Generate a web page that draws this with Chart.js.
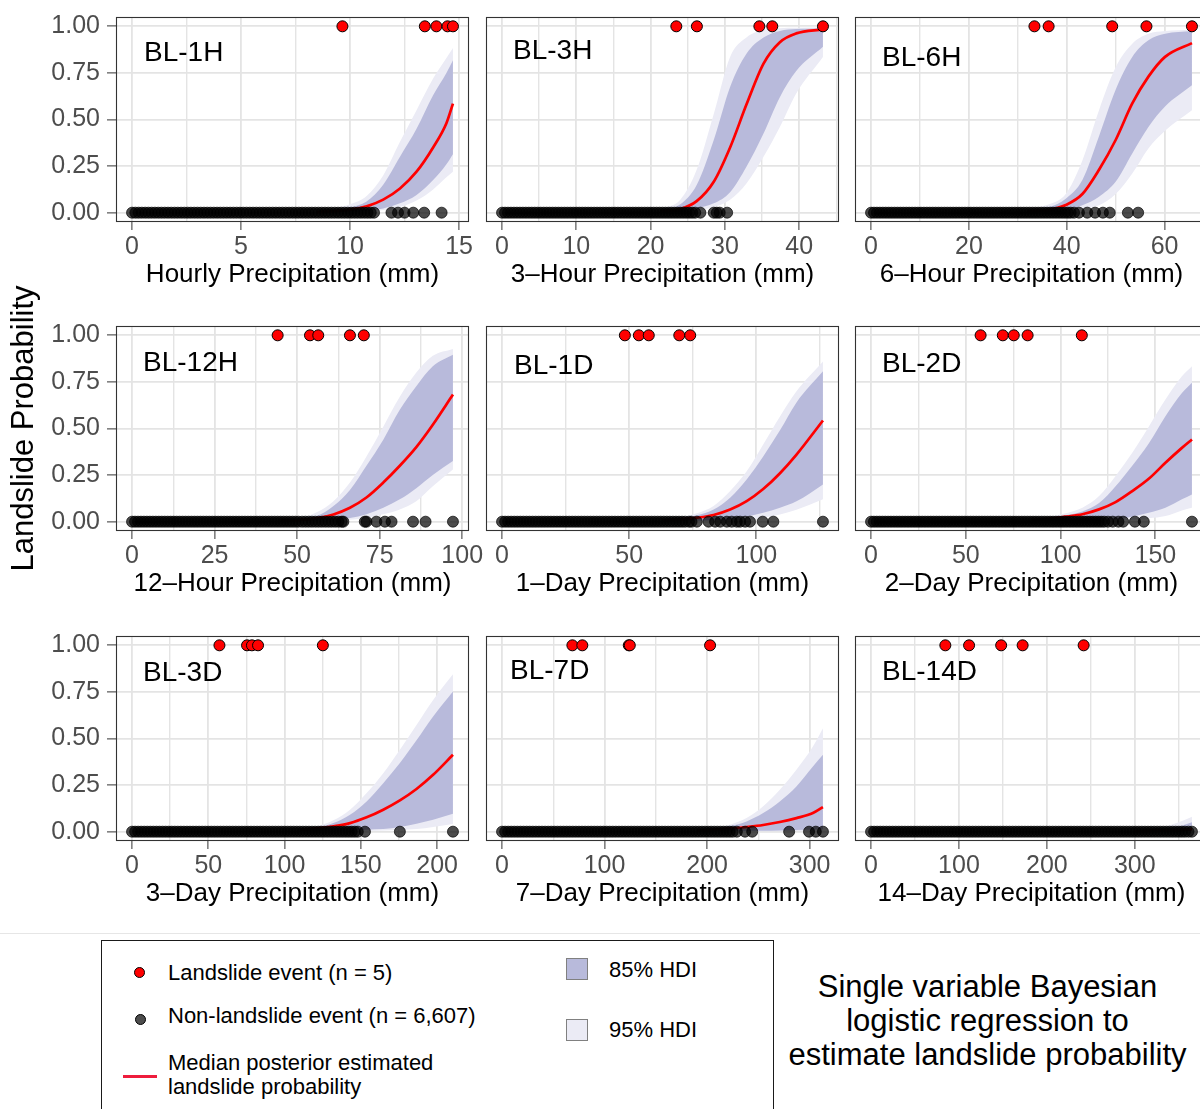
<!DOCTYPE html>
<html lang="en">
<head>
<meta charset="utf-8">
<title>Single variable Bayesian logistic regression – landslide probability</title>
<script src="https://cdn.jsdelivr.net/npm/chart.js@4.4.1/dist/chart.umd.min.js"></script>
<style>
  html, body { margin: 0; padding: 0; width: 1200px; height: 1109px; overflow: hidden; background: #fff; }
  body { position: relative; font-family: "Liberation Sans", Arial, Helvetica, sans-serif; color: #000; }
  canvas.panel { position: absolute; }
  .rule { position: absolute; left: 0; top: 933px; width: 1200px; height: 1px; background: #e6e6e6; }
  .legend-box { position: absolute; left: 101px; top: 940px; width: 673px; height: 200px;
                border: 1.5px solid #1a1a1a; box-sizing: border-box; }
  .txt { position: absolute; font-size: 22px; line-height: 26px; white-space: nowrap; }
  .dot { position: absolute; width: 11px; height: 11px; border-radius: 50%; box-sizing: border-box; border: 1.2px solid #000; }
  .swatch { position: absolute; width: 22px; height: 22px; box-sizing: border-box; border: 1px solid #808080; }
  .note { position: absolute; left: 782px; top: 969.5px; width: 411px; text-align: center;
          font-size: 31px; line-height: 34.4px; }
</style>
</head>
<body>

<div class="rule"></div>
<div class="legend-box"></div>

<div class="dot" style="left:133.5px;top:966.8px;background:#ff0000;"></div>
<div class="txt" style="left:168px;top:959.8px;">Landslide event (n = 5)</div>

<div class="dot" style="left:134.5px;top:1013.5px;background:#4d4d4d;"></div>
<div class="txt" style="left:168px;top:1002.8px;">Non-landslide event (n = 6,607)</div>

<div style="position:absolute;left:123px;top:1074.5px;width:34px;height:3.5px;background:#ee1c3c;"></div>
<div class="txt" style="left:168px;top:1051.1px;line-height:23.4px;">Median posterior estimated<br>landslide probability</div>

<div class="swatch" style="left:566px;top:958px;background:#b8badb;"></div>
<div class="txt" style="left:609px;top:957px;">85% HDI</div>

<div class="swatch" style="left:566px;top:1019px;background:#ebebf5;"></div>
<div class="txt" style="left:609px;top:1017px;">95% HDI</div>

<div class="note">Single variable Bayesian<br>logistic regression to<br>estimate landslide probability</div>

<script>
// ---------------------------------------------------------------
// Observations (x = accumulated precipitation, mm) and posterior
// summaries of P(landslide) for each accumulation window.
// ---------------------------------------------------------------

const probTicks = [0, 0.25, 0.5, 0.75, 1];

// BL-1H : hourly
const h1Max = 14.72;
const h1Ticks = [0, 5, 10, 15];
const h1MinorTicks = [2.5, 7.5, 12.5];
const h1Landslide = [9.65, 13.43, 13.96, 14.47, 14.72];
const h1NonLandslide = [0, 0.15, 0.3, 0.45, 0.6, 0.75, 0.9, 1.05, 1.2, 1.35, 1.5, 1.65, 1.8, 1.95, 2.1, 2.25, 2.4, 2.55,
  2.7, 2.85, 3, 3.15, 3.3, 3.45, 3.6, 3.75, 3.9, 4.05, 4.2, 4.35, 4.5, 4.65, 4.8, 4.95, 5.1, 5.25, 5.4, 5.55, 5.7, 5.85,
  6, 6.15, 6.3, 6.45, 6.6, 6.75, 6.9, 7.05, 7.2, 7.35, 7.5, 7.65, 7.8, 7.95, 8.1, 8.25, 8.4, 8.55, 8.7, 8.85, 9, 9.15,
  9.3, 9.45, 9.6, 9.75, 9.9, 10.05, 10.2, 10.35, 10.5, 10.65, 10.8, 10.95, 11.1, 11.9, 12.2, 12.5, 12.9, 13.4, 14.2];
const h1CurveX = [8.5, 9.24, 10.0, 10.76, 11.52, 12.29, 13.05, 13.81, 14.42, 14.72];
const h1Median = [0.003, 0.007, 0.016, 0.034, 0.07, 0.13, 0.22, 0.35, 0.48, 0.585];
const h1Hdi85Low = [0.001, 0.002, 0.005, 0.011, 0.023, 0.05, 0.095, 0.175, 0.26, 0.314];
const h1Hdi85High = [0.006, 0.014, 0.028, 0.06, 0.15, 0.30, 0.45, 0.63, 0.75, 0.818];
const h1Hdi95Low = [0, 0.001, 0.003, 0.006, 0.014, 0.03, 0.065, 0.125, 0.19, 0.22];
const h1Hdi95High = [0.01, 0.022, 0.045, 0.09, 0.20, 0.38, 0.55, 0.72, 0.83, 0.884];

// BL-3H : 3-hour
const h3Max = 43.2;
const h3Ticks = [0, 10, 20, 30, 40];
const h3MinorTicks = [5, 15, 25, 35, 45];
const h3Landslide = [23.46, 26.23, 34.64, 36.38, 43.2];
const h3NonLandslide = [0, 0.4, 0.8, 1.2, 1.6, 2, 2.4, 2.8, 3.2, 3.6, 4, 4.4, 4.8, 5.2, 5.6, 6, 6.4, 6.8, 7.2, 7.6, 8,
  8.4, 8.8, 9.2, 9.6, 10, 10.4, 10.8, 11.2, 11.6, 12, 12.4, 12.8, 13.2, 13.6, 14, 14.4, 14.8, 15.2, 15.6, 16, 16.4, 16.8,
  17.2, 17.6, 18, 18.4, 18.8, 19.2, 19.6, 20, 20.4, 20.8, 21.2, 21.6, 22, 22.4, 22.8, 23.2, 23.6, 24, 24.4, 24.8, 25.2,
  25.6, 26.0, 26.7, 28.5, 28.9, 29.3, 30.3];
const h3CurveX = [21.3, 24.0, 26.2, 28.5, 30.7, 32.9, 35.2, 37.4, 39.6, 43.2];
const h3Median = [0.006, 0.02, 0.062, 0.166, 0.35, 0.58, 0.80, 0.915, 0.962, 0.984];
const h3Hdi85Low = [0.002, 0.007, 0.023, 0.05, 0.11, 0.246, 0.425, 0.62, 0.76, 0.89];
const h3Hdi85High = [0.012, 0.045, 0.148, 0.39, 0.675, 0.853, 0.94, 0.975, 0.985, 0.988];
const h3Hdi95Low = [0.001, 0.004, 0.012, 0.03, 0.07, 0.157, 0.30, 0.46, 0.64, 0.836];
const h3Hdi95High = [0.02, 0.07, 0.23, 0.53, 0.836, 0.94, 0.98, 0.99, 0.992, 0.993];

// BL-6H : 6-hour
const h6Max = 65.6;
const h6Ticks = [0, 20, 40, 60];
const h6MinorTicks = [10, 30, 50];
const h6Landslide = [33.4, 36.3, 49.3, 56.3, 65.6];
const h6NonLandslide = [0, 0.6, 1.2, 1.8, 2.4, 3, 3.6, 4.2, 4.8, 5.4, 6, 6.6, 7.2, 7.8, 8.4, 9, 9.6, 10.2, 10.8, 11.4,
  12, 12.6, 13.2, 13.8, 14.4, 15, 15.6, 16.2, 16.8, 17.4, 18, 18.6, 19.2, 19.8, 20.4, 21, 21.6, 22.2, 22.8, 23.4, 24,
  24.6, 25.2, 25.8, 26.4, 27, 27.6, 28.2, 28.8, 29.4, 30, 30.6, 31.2, 31.8, 32.4, 33, 33.6, 34.2, 34.8, 35.4, 36, 36.6,
  37.2, 37.8, 38.4, 39, 39.6, 40.2, 40.8, 41.5, 42.5, 44.2, 45.8, 47.4, 48.8, 52.5, 54.6];
const h6CurveX = [32.0, 36.4, 39.8, 43.2, 46.6, 50.0, 53.4, 56.7, 60.1, 65.6];
const h6Median = [0.006, 0.015, 0.041, 0.10, 0.23, 0.39, 0.586, 0.73, 0.836, 0.91];
const h6Hdi85Low = [0.002, 0.005, 0.015, 0.04, 0.086, 0.166, 0.318, 0.46, 0.57, 0.684];
const h6Hdi85High = [0.012, 0.03, 0.075, 0.175, 0.41, 0.66, 0.836, 0.925, 0.96, 0.975];
const h6Hdi95Low = [0.001, 0.002, 0.008, 0.02, 0.04, 0.10, 0.21, 0.345, 0.44, 0.55];
const h6Hdi95High = [0.018, 0.045, 0.10, 0.28, 0.55, 0.78, 0.907, 0.96, 0.975, 0.982];

// BL-12H : 12-hour
const h12Max = 97.2;
const h12Ticks = [0, 25, 50, 75, 100];
const h12MinorTicks = [12.5, 37.5, 62.5, 87.5];
const h12Landslide = [44.1, 53.9, 56.4, 66.0, 70.2];
const h12NonLandslide = [0, 0.9, 1.8, 2.7, 3.6, 4.5, 5.4, 6.3, 7.2, 8.1, 9, 9.9, 10.8, 11.7, 12.6, 13.5, 14.4, 15.3,
  16.2, 17.1, 18, 18.9, 19.8, 20.7, 21.6, 22.5, 23.4, 24.3, 25.2, 26.1, 27, 27.9, 28.8, 29.7, 30.6, 31.5, 32.4, 33.3,
  34.2, 35.1, 36, 36.9, 37.8, 38.7, 39.6, 40.5, 41.4, 42.3, 43.2, 44.1, 45, 45.9, 46.8, 47.7, 48.6, 49.5, 50.4, 51.5,
  52.5, 53.5, 54.5, 55.5, 56.5, 57.5, 58.5, 59.5, 60.5, 61.5, 62.5, 63.5, 64, 70.5, 71, 74, 76.6, 78.6, 85.1, 88.9, 97.2];
const h12CurveX = [45.0, 50.9, 55.9, 61.0, 66.0, 71.0, 76.1, 81.1, 86.1, 91.1, 97.2];
const h12Median = [0.005, 0.01, 0.018, 0.039, 0.075, 0.13, 0.21, 0.30, 0.40, 0.52, 0.682];
const h12Hdi85Low = [0.001, 0.002, 0.005, 0.01, 0.02, 0.04, 0.075, 0.12, 0.18, 0.25, 0.325];
const h12Hdi85High = [0.008, 0.015, 0.03, 0.084, 0.17, 0.30, 0.44, 0.60, 0.727, 0.834, 0.896];
const h12Hdi95Low = [0, 0.001, 0.002, 0.005, 0.01, 0.02, 0.04, 0.066, 0.11, 0.19, 0.28];
const h12Hdi95High = [0.012, 0.02, 0.05, 0.11, 0.21, 0.35, 0.51, 0.67, 0.80, 0.89, 0.927];

// BL-1D : 1-day
const d1Max = 126.2;
const d1Ticks = [0, 50, 100];
const d1MinorTicks = [25, 75, 125];
const d1Landslide = [48.3, 53.8, 57.7, 69.7, 74.0];
const d1NonLandslide = [0, 1.2, 2.4, 3.6, 4.8, 6, 7.2, 8.4, 9.6, 10.8, 12, 13.2, 14.4, 15.6, 16.8, 18, 19.2, 20.4,
  21.6, 22.8, 24, 25.2, 26.4, 27.6, 28.8, 30, 31.2, 32.4, 33.6, 34.8, 36, 37.2, 38.4, 39.6, 40.8, 42, 43.2, 44.4, 45.6,
  46.8, 48, 49.2, 50.4, 51.6, 52.8, 54, 55.2, 56.4, 57.6, 58.8, 60, 61.2, 62.4, 63.6, 64.8, 66, 67.2, 68.4, 69.6, 70.8,
  72, 73.5, 74.5, 76.6, 81.2, 83.8, 85.8, 88.4, 90.3, 92.3, 93.6, 95.6, 97.5, 102.5, 106.7, 126.2];
const d1CurveX = [63.5, 70.1, 76.6, 83.2, 89.7, 96.2, 102.7, 109.3, 115.8, 126.2];
const d1Median = [0.007, 0.012, 0.021, 0.036, 0.065, 0.11, 0.175, 0.26, 0.36, 0.543];
const d1Hdi85Low = [0.002, 0.003, 0.005, 0.008, 0.0125, 0.027, 0.048, 0.075, 0.109, 0.2];
const d1Hdi85High = [0.01, 0.018, 0.035, 0.066, 0.129, 0.227, 0.35, 0.49, 0.64, 0.807];
const d1Hdi95Low = [0.001, 0.001, 0.002, 0.004, 0.007, 0.0125, 0.021, 0.039, 0.064, 0.12];
const d1Hdi95High = [0.013, 0.025, 0.045, 0.084, 0.164, 0.27, 0.414, 0.565, 0.70, 0.86];

// BL-2D : 2-day
const d2Max = 169.3;
const d2Ticks = [0, 50, 100, 150];
const d2MinorTicks = [25, 75, 125, 175];
const d2Landslide = [57.8, 69.5, 75.3, 82.6, 111.2];
const d2NonLandslide = [0, 1.5, 3, 4.5, 6, 7.5, 9, 10.5, 12, 13.5, 15, 16.5, 18, 19.5, 21, 22.5, 24, 25.5, 27, 28.5,
  30, 31.5, 33, 34.5, 36, 37.5, 39, 40.5, 42, 43.5, 45, 46.5, 48, 49.5, 51, 52.5, 54, 55.5, 57, 58.5, 60, 61.5, 63, 64.5,
  66, 67.5, 69, 70.5, 72, 73.5, 75, 76.5, 78, 79.5, 81, 82.5, 84, 85.5, 87, 88.5, 90, 91.5, 93, 94.5, 96, 97.5, 99,
  100.5, 102, 103.5, 105, 106.5, 108, 109.5, 111, 112.5, 114, 115.5, 117, 118.5, 120, 121.5, 123, 125, 127.5, 130.5,
  133, 139.2, 143.9, 169.3];
const d2CurveX = [85.0, 94.0, 102.7, 111.5, 120.3, 129.0, 137.8, 146.5, 155.3, 164.0, 169.3];
const d2Median = [0.008, 0.015, 0.027, 0.04, 0.066, 0.105, 0.164, 0.23, 0.316, 0.396, 0.441];
const d2Hdi85Low = [0.002, 0.003, 0.005, 0.007, 0.01, 0.0125, 0.027, 0.048, 0.075, 0.12, 0.146];
const d2Hdi85High = [0.01, 0.02, 0.035, 0.055, 0.10, 0.19, 0.30, 0.42, 0.566, 0.69, 0.745];
const d2Hdi95Low = [0.001, 0.001, 0.002, 0.003, 0.005, 0.007, 0.012, 0.018, 0.03, 0.06, 0.075];
const d2Hdi95High = [0.014, 0.025, 0.045, 0.075, 0.1375, 0.245, 0.37, 0.51, 0.655, 0.78, 0.834];

// BL-3D : 3-day
const d3Max = 210.4;
const d3Ticks = [0, 50, 100, 150, 200];
const d3MinorTicks = [25, 75, 125, 175];
const d3Landslide = [57.3, 75.4, 78.6, 82.6, 125.1];
const d3NonLandslide = [0, 2, 4, 6, 8, 10, 12, 14, 16, 18, 20, 22, 24, 26, 28, 30, 32, 34, 36, 38, 40, 42, 44, 46, 48,
  50, 52, 54, 56, 58, 60, 62, 64, 66, 68, 70, 72, 74, 76, 78, 80, 82, 84, 86, 88, 90, 92, 94, 96, 98, 100, 102, 104,
  106, 108, 110, 112, 114, 116, 118, 120, 122, 124, 126, 128, 130, 132, 134, 136, 138, 140, 142, 144, 146, 148, 152.7,
  175.6, 210.4];
const d3CurveX = [110.0, 121.1, 132.0, 142.9, 153.8, 164.7, 175.6, 186.5, 197.4, 210.4];
const d3Median = [0.01, 0.018, 0.029, 0.046, 0.077, 0.118, 0.168, 0.229, 0.305, 0.4125];
const d3Hdi85Low = [0.002, 0.003, 0.005, 0.008, 0.011, 0.014, 0.025, 0.043, 0.064, 0.096];
const d3Hdi85High = [0.012, 0.022, 0.046, 0.091, 0.1625, 0.26, 0.368, 0.49, 0.618, 0.752];
const d3Hdi95Low = [0.001, 0.001, 0.002, 0.003, 0.004, 0.006, 0.01, 0.014, 0.025, 0.041];
const d3Hdi95High = [0.015, 0.029, 0.061, 0.118, 0.207, 0.314, 0.44, 0.573, 0.707, 0.845];

// BL-7D : 7-day
const d7Max = 313;
const d7Ticks = [0, 100, 200, 300];
const d7MinorTicks = [50, 150, 250];
const d7Landslide = [68.6, 78.3, 123.6, 124.6, 202.9];
const d7NonLandslide = [0, 3, 6, 9, 12, 15, 18, 21, 24, 27, 30, 33, 36, 39, 42, 45, 48, 51, 54, 57, 60, 63, 66, 69, 72,
  75, 78, 81, 84, 87, 90, 93, 96, 99, 102, 105, 108, 111, 114, 117, 120, 123, 126, 129, 132, 135, 138, 141, 144, 147,
  150, 153, 156, 159, 162, 165, 168, 171, 174, 177, 180, 183, 186, 189, 192, 195, 198, 201, 204, 207, 210, 213, 216,
  219, 222, 225, 229, 237, 244, 280, 299.4, 306, 313];
const d7CurveX = [190.0, 206.1, 222.3, 238.5, 254.7, 270.9, 287.1, 303.2, 313.0];
const d7Median = [0.006, 0.01, 0.016, 0.025, 0.036, 0.052, 0.073, 0.1, 0.132];
const d7Hdi85Low = [0.001, 0.002, 0.003, 0.004, 0.005, 0.007, 0.009, 0.012, 0.014];
const d7Hdi85High = [0.008, 0.014, 0.029, 0.055, 0.1, 0.1625, 0.243, 0.35, 0.4125];
const d7Hdi95Low = [0, 0, 0.001, 0.001, 0.002, 0.002, 0.003, 0.004, 0.005];
const d7Hdi95High = [0.012, 0.02, 0.0375, 0.073, 0.136, 0.225, 0.332, 0.457, 0.555];

// BL-14D : 14-day
const d14Max = 365;
const d14Ticks = [0, 100, 200, 300];
const d14MinorTicks = [50, 150, 250, 350];
const d14Landslide = [84.5, 111.5, 148, 172.4, 241.8];
const d14NonLandslide = [0, 3.5, 7, 10.5, 14, 17.5, 21, 24.5, 28, 31.5, 35, 38.5, 42, 45.5, 49, 52.5, 56, 59.5, 63,
  66.5, 70, 73.5, 77, 80.5, 84, 87.5, 91, 94.5, 98, 101.5, 105, 108.5, 112, 115.5, 119, 122.5, 126, 129.5, 133, 136.5,
  140, 143.5, 147, 150.5, 154, 157.5, 161, 164.5, 168, 171.5, 175, 178.5, 182, 185.5, 189, 192.5, 196, 199.5, 203,
  206.5, 210, 213.5, 217, 220.5, 224, 227.5, 231, 234.5, 238, 241.5, 245, 248.5, 252, 255.5, 259, 262.5, 266, 269.5,
  273, 276.5, 280, 283.5, 287, 290.5, 294, 297.5, 301, 304.5, 308, 311.5, 315, 318.5, 322, 325.5, 329, 332.5, 336,
  339.5, 343, 346.5, 350, 353.5, 357, 361, 365];
const d14CurveX = [300, 320, 340, 355, 365];
const d14Median = [0.002, 0.004, 0.007, 0.01, 0.013];
const d14Hdi85Low = [0.0005, 0.001, 0.0015, 0.002, 0.003];
const d14Hdi85High = [0.004, 0.01, 0.02, 0.035, 0.05];
const d14Hdi95Low = [0, 0, 0.0005, 0.001, 0.001];
const d14Hdi95High = [0.006, 0.015, 0.035, 0.06, 0.08];

// ---------------------------------------------------------------
// Panel table (built from the arrays above)
// ---------------------------------------------------------------
const panels = [
  { label: 'BL-1H', title: 'Hourly Precipitation (mm)', max: h1Max, ticks: h1Ticks, minor: h1MinorTicks,
    slide: h1Landslide, other: h1NonLandslide, cx: h1CurveX, med: h1Median,
    lo85: h1Hdi85Low, hi85: h1Hdi85High, lo95: h1Hdi95Low, hi95: h1Hdi95High },
  { label: 'BL-3H', title: '3\u2013Hour Precipitation (mm)', max: h3Max, ticks: h3Ticks, minor: h3MinorTicks,
    slide: h3Landslide, other: h3NonLandslide, cx: h3CurveX, med: h3Median,
    lo85: h3Hdi85Low, hi85: h3Hdi85High, lo95: h3Hdi95Low, hi95: h3Hdi95High },
  { label: 'BL-6H', title: '6\u2013Hour Precipitation (mm)', max: h6Max, ticks: h6Ticks, minor: h6MinorTicks,
    slide: h6Landslide, other: h6NonLandslide, cx: h6CurveX, med: h6Median,
    lo85: h6Hdi85Low, hi85: h6Hdi85High, lo95: h6Hdi95Low, hi95: h6Hdi95High },
  { label: 'BL-12H', title: '12\u2013Hour Precipitation (mm)', max: h12Max, ticks: h12Ticks, minor: h12MinorTicks,
    slide: h12Landslide, other: h12NonLandslide, cx: h12CurveX, med: h12Median,
    lo85: h12Hdi85Low, hi85: h12Hdi85High, lo95: h12Hdi95Low, hi95: h12Hdi95High },
  { label: 'BL-1D', title: '1\u2013Day Precipitation (mm)', max: d1Max, ticks: d1Ticks, minor: d1MinorTicks,
    slide: d1Landslide, other: d1NonLandslide, cx: d1CurveX, med: d1Median,
    lo85: d1Hdi85Low, hi85: d1Hdi85High, lo95: d1Hdi95Low, hi95: d1Hdi95High },
  { label: 'BL-2D', title: '2\u2013Day Precipitation (mm)', max: d2Max, ticks: d2Ticks, minor: d2MinorTicks,
    slide: d2Landslide, other: d2NonLandslide, cx: d2CurveX, med: d2Median,
    lo85: d2Hdi85Low, hi85: d2Hdi85High, lo95: d2Hdi95Low, hi95: d2Hdi95High },
  { label: 'BL-3D', title: '3\u2013Day Precipitation (mm)', max: d3Max, ticks: d3Ticks, minor: d3MinorTicks,
    slide: d3Landslide, other: d3NonLandslide, cx: d3CurveX, med: d3Median,
    lo85: d3Hdi85Low, hi85: d3Hdi85High, lo95: d3Hdi95Low, hi95: d3Hdi95High },
  { label: 'BL-7D', title: '7\u2013Day Precipitation (mm)', max: d7Max, ticks: d7Ticks, minor: d7MinorTicks,
    slide: d7Landslide, other: d7NonLandslide, cx: d7CurveX, med: d7Median,
    lo85: d7Hdi85Low, hi85: d7Hdi85High, lo95: d7Hdi95Low, hi95: d7Hdi95High },
  { label: 'BL-14D', title: '14\u2013Day Precipitation (mm)', max: d14Max, ticks: d14Ticks, minor: d14MinorTicks,
    slide: d14Landslide, other: d14NonLandslide, cx: d14CurveX, med: d14Median,
    lo85: d14Hdi85Low, hi85: d14Hdi85High, lo95: d14Hdi95Low, hi95: d14Hdi95High }
];

// Layout of the 3 x 3 grid (page pixels)
const FONT = '"Liberation Sans", Arial, Helvetica, sans-serif';
const COL_X = [116, 486, 855];
const ROW_Y = [17, 326, 636];
const PLOT_W = 353, PLOT_H = 205;
const AXIS_W = 116, AXIS_H = 71, PAD_T = 50, PAD_R = 40;
// panel tag offsets from the top-left corner of each plotting area
const TAG_OFFSETS = [[28, 36], [27, 34], [27, 41], [27, 37], [28, 40], [27, 38], [27, 37], [24, 35], [27, 36]];

// Frame around each plotting area plus the panel tag (BL-1H ...)
const panelFrame = {
  id: 'panelFrame',
  afterDatasetsDraw(chart, args, opts) {
    const { ctx, chartArea: a } = chart;
    ctx.save();
    ctx.strokeStyle = '#333333';
    ctx.lineWidth = 1.1;
    ctx.strokeRect(a.left + 0.5, a.top + 0.5, a.width - 1, a.height - 1);
    ctx.fillStyle = '#000';
    ctx.font = '28px ' + FONT;
    ctx.textAlign = 'left';
    ctx.textBaseline = 'middle';
    ctx.fillText(opts.text, a.left + opts.dx, a.top + opts.dy);
    ctx.restore();
  }
};

const pairs = (xs, ys) => xs.map((x, k) => ({ x, y: Array.isArray(ys) ? ys[k] : ys }));

panels.forEach((p, i) => {
  const col = i % 3, row = Math.floor(i / 3);
  const cv = document.createElement('canvas');
  cv.className = 'panel';
  cv.width = AXIS_W + PLOT_W + PAD_R;
  cv.height = PAD_T + PLOT_H + AXIS_H;
  cv.style.left = (COL_X[col] - AXIS_W) + 'px';
  cv.style.top = (ROW_Y[row] - PAD_T) + 'px';
  document.body.appendChild(cv);

  const majors = p.ticks;
  const allTicks = [...p.ticks, ...p.minor].sort((a, b) => a - b);
  const isMajor = c => c.tick && majors.includes(c.tick.value);

  const band = (ys, fill, color, order) => ({
    data: pairs(p.cx, ys), fill, backgroundColor: color,
    borderColor: 'rgba(0,0,0,0)', borderWidth: 0, pointRadius: 0,
    cubicInterpolationMode: 'monotone', order
  });

  new Chart(cv, {
    type: 'line',
    data: {
      datasets: [
        { label: 'Landslide event', data: pairs(p.slide, 1), showLine: false,
          pointRadius: 5.5, pointBackgroundColor: '#ff0000', pointBorderColor: '#000000',
          pointBorderWidth: 1, order: 0 },
        { label: 'Non-landslide event', data: pairs(p.other, 0), showLine: false,
          pointRadius: 5.5, pointBackgroundColor: 'rgba(0,0,0,0.7)', pointBorderColor: 'rgba(0,0,0,0.7)',
          pointBorderWidth: 1, order: 1 },
        { label: 'Median posterior', data: pairs(p.cx, p.med), borderColor: '#ff0000', borderWidth: 2.7,
          pointRadius: 0, fill: false, cubicInterpolationMode: 'monotone', order: 2 },
        band(p.hi85, '+1', '#b8badb', 3),
        band(p.lo85, false, 'rgba(0,0,0,0)', 4),
        band(p.hi95, '+1', '#ebebf5', 5),
        band(p.lo95, false, 'rgba(0,0,0,0)', 6)
      ]
    },
    plugins: [panelFrame],
    options: {
      responsive: false,
      animation: false,
      devicePixelRatio: 1,
      events: [],
      layout: { padding: { top: PAD_T, right: PAD_R, left: 0, bottom: 0 } },
      plugins: {
        legend: { display: false },
        tooltip: { enabled: false },
        panelFrame: { text: p.label, dx: TAG_OFFSETS[i][0], dy: TAG_OFFSETS[i][1] }
      },
      scales: {
        x: {
          type: 'linear',
          min: -0.05 * p.max,
          max: 1.05 * p.max,
          afterBuildTicks: s => { s.ticks = allTicks.map(v => ({ value: v })); },
          afterFit: s => { s.height = AXIS_H; },
          ticks: {
            autoSkip: false, maxRotation: 0, minRotation: 0, padding: 2,
            color: '#4d4d4d', font: { family: FONT, size: 25 },
            callback: v => (majors.includes(v) ? String(v) : '')
          },
          grid: {
            color: '#e4e4e4',
            lineWidth: c => (isMajor(c) ? 1.8 : 1.4),
            tickColor: c => (isMajor(c) ? '#333333' : 'rgba(0,0,0,0)'),
            tickLength: 8, tickWidth: 1
          },
          border: { display: false },
          title: {
            display: true, text: p.title, color: '#000',
            font: { family: FONT, size: 26 }, padding: { top: 0, bottom: 3 }
          }
        },
        y: {
          type: 'linear',
          min: -0.05,
          max: 1.05,
          afterBuildTicks: s => { s.ticks = probTicks.map(v => ({ value: v })); },
          afterFit: s => { s.width = AXIS_W; },
          ticks: {
            display: col === 0, padding: 7, color: '#4d4d4d',
            font: { family: FONT, size: 25 },
            callback: v => v.toFixed(2)
          },
          grid: {
            color: '#e4e4e4', lineWidth: 1.8,
            tickColor: col === 0 ? '#333333' : 'rgba(0,0,0,0)',
            tickLength: 9, tickWidth: 1
          },
          border: { display: false },
          title: {
            display: i === 3, text: 'Landslide Probability', color: '#000',
            font: { family: FONT, size: 31 }, padding: { top: 6, bottom: 0 }
          }
        }
      }
    }
  });
});
</script>
</body>
</html>
